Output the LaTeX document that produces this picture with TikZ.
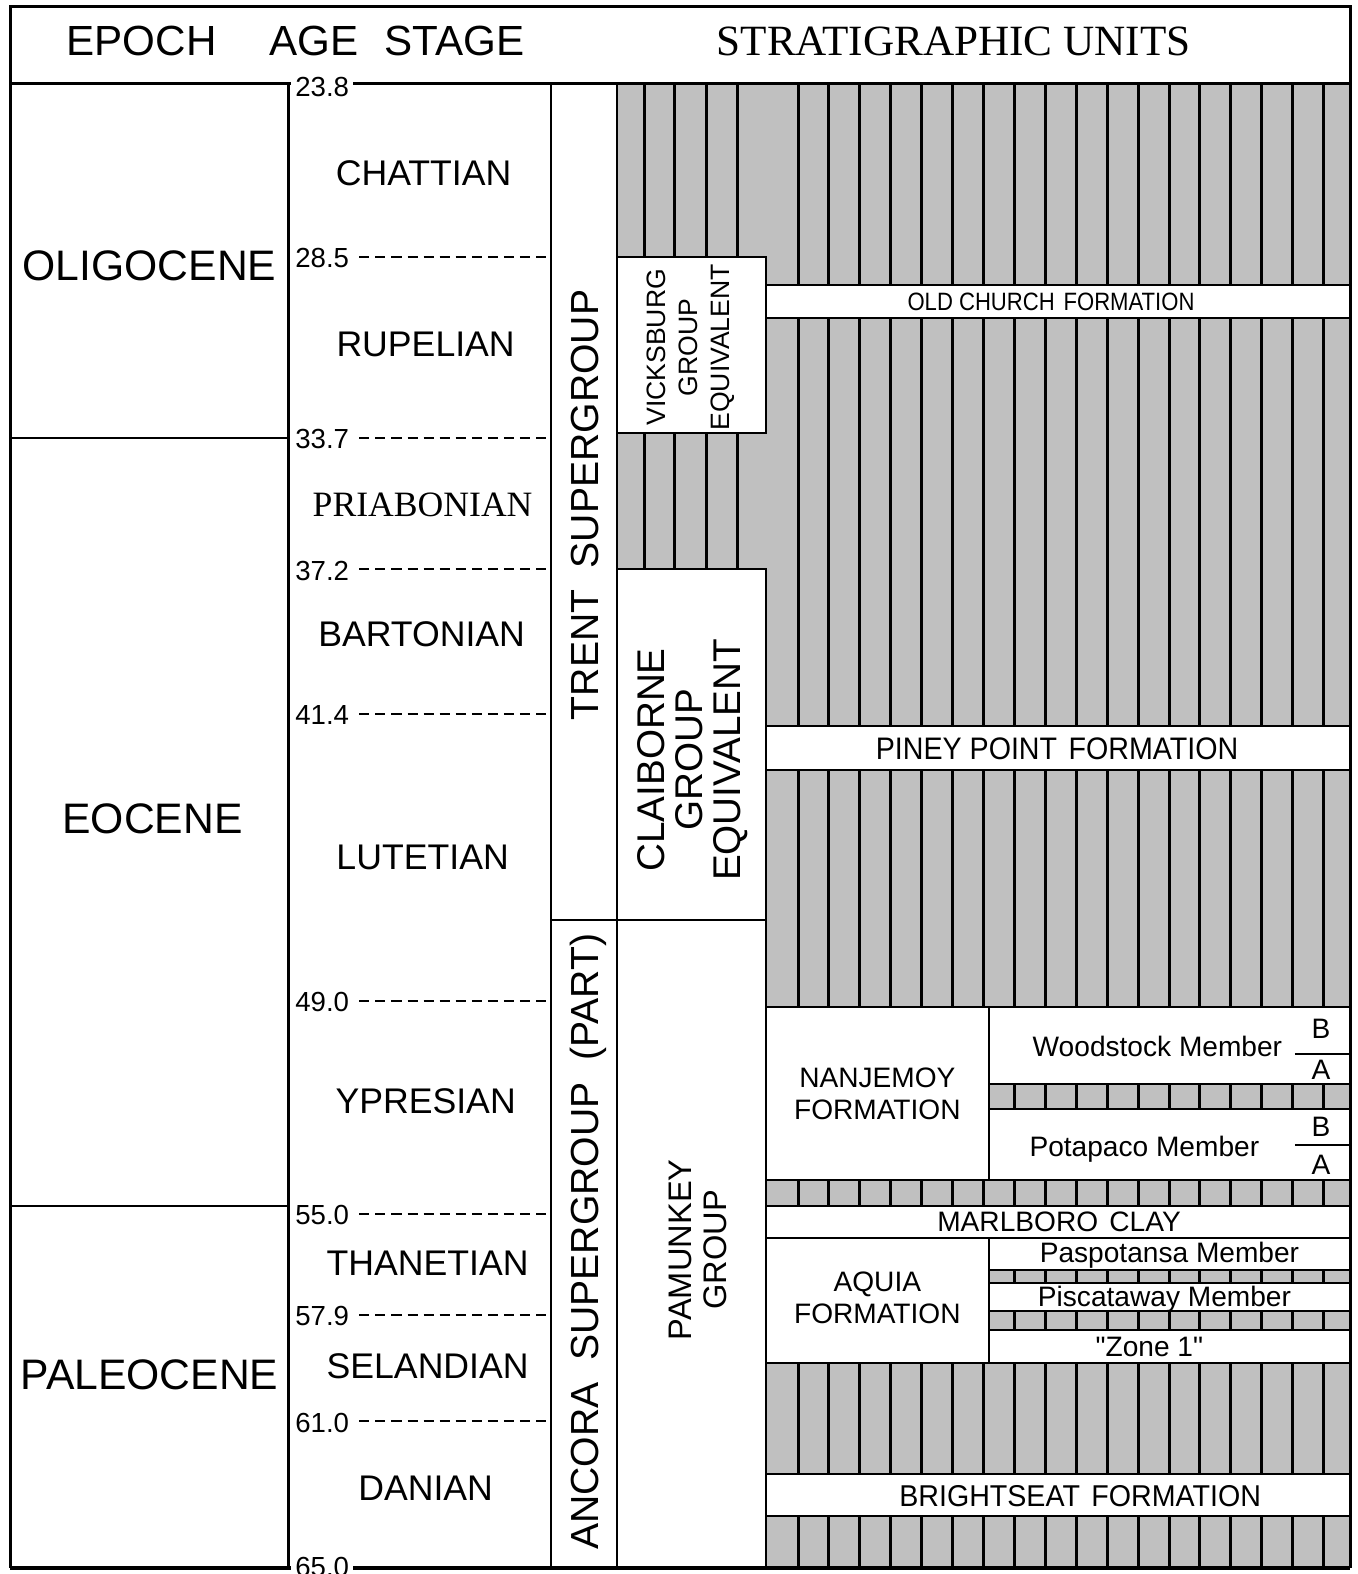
\documentclass[tikz,border=0pt]{standalone}
\usepackage{fontspec}
\usepackage{graphicx}
\setmainfont{Liberation Sans}
\newfontfamily\serifft{Liberation Serif}
\newfontfamily\rawsans{Liberation Sans}
\definecolor{hatchgray}{HTML}{C0C0C0}
\newcommand\fs[2]{\fontsize{#1}{#2}\selectfont}
\begin{document}
\begin{tikzpicture}[x=1pt,y=-1pt,line join=miter,
  frameline/.style={line width=3pt},
  ruleline/.style={line width=2pt},
  stripe/.style={line width=3pt},
  unitbox/.style={draw,line width=2pt,fill=white},
  dashline/.style={line width=2pt,dash pattern=on 10pt off 6pt},
  lab/.style={inner sep=0pt,text depth=0pt},
  mlab/.style={inner sep=0pt,align=center},
  hdr/.style={lab,text height=30pt,font=\fs{42}{46}},
  epochlab/.style={lab,text height=30.4pt,font=\fs{42.5}{46}},
  stagelab/.style={lab,text height=25.3pt,font=\fs{35.5}{40}},
  agelab/.style={lab,anchor=west,text height=19.6pt,font=\fs{27.5}{30}},
  memlab/.style={lab,text height=20pt,font=\fs{28}{32}},
  sglab/.style={lab,rotate=90,text height=28pt,font=\fs{39}{44}}
]
\useasboundingbox (0,0) rectangle (1352,1568);
\clip (0,0) rectangle (1352,1568);
% hatched region
\fill[hatchgray] (615,83) rectangle (1345,1562);
\foreach \x in {642,672,704,735} \draw[stripe] (\x,83) -- (\x,1562);
\foreach \k in {0,...,17} \draw[stripe] ({795+\k*30.8},83) -- ({795+\k*30.8},1562);
% white unit boxes
\path[unitbox] (615,256) rectangle (763,431);
\path[unitbox] (615,567) rectangle (763,916);
\path[unitbox] (615,916) rectangle (763,1562);
\path[unitbox] (763,284) rectangle (1345,317);
\path[unitbox] (763,723) rectangle (1345,767);
\path[unitbox] (763,1003) rectangle (985,1175);
\path[unitbox] (985,1003) rectangle (1345,1080);
\path[unitbox] (985,1105) rectangle (1345,1175);
\path[unitbox] (763,1201) rectangle (1345,1233);
\path[unitbox] (763,1233) rectangle (985,1358);
\path[unitbox] (985,1233) rectangle (1345,1265);
\path[unitbox] (985,1278) rectangle (1345,1306);
\path[unitbox] (985,1325) rectangle (1345,1358);
\path[unitbox] (763,1468) rectangle (1345,1510);
% B/A dividers
\draw[ruleline] (1290,1050) -- (1345,1050);
\draw[ruleline] (1290,1141) -- (1345,1141);
% column lines
\draw[ruleline] (549,83) -- (549,1562);
\draw[ruleline] (615,83) -- (615,1562);
\draw[frameline] (287,83) -- (287,1562);
\draw[ruleline] (10,436) -- (287,436);
\draw[ruleline] (10,1201) -- (287,1201);
\draw[ruleline] (549,916) -- (615,916);
% frame
\draw[frameline] (10,1562) -- (10,6) -- (1345,6) -- (1345,1562);
\draw[frameline] (10,1562) -- (290,1562);
\draw[frameline] (352,1562) -- (1345,1562);
\draw[frameline] (10,83) -- (290,83);
\draw[frameline] (352,83) -- (1345,83);
% dashed age lines
\foreach \y in {256,436,567,711,997,1209,1310,1416} \draw[dashline] (358,\y) -- (549,\y);
% header
\node[hdr] (hepoch) at (141,40) {EPOCH};
\node[hdr] (hage) at (313,40) {AGE};
\node[hdr] (hstage) at (453,40) {STAGE};
\node[hdr,text height=30.5pt,font=\serifft\fs{43}{46}] (hunits) at (950,40) {STRATIGRAPHIC UNITS};
% epochs
\node[epochlab] (olig) at (149,264) {OLIGOCENE};
\node[epochlab] (eoc) at (152,815) {EOCENE};
\node[epochlab] (paleo) at (149,1369) {PALEOCENE};
% ages
\node[agelab] (a238) at (294,86) {23.8};
\node[agelab] (a285) at (294,257) {28.5};
\node[agelab] (a337) at (294,437) {33.7};
\node[agelab] (a372) at (294,568) {37.2};
\node[agelab] (a414) at (294,712) {41.4};
\node[agelab] (a490) at (294,998) {49.0};
\node[agelab] (a550) at (294,1210) {55.0};
\node[agelab] (a579) at (294,1311) {57.9};
\node[agelab] (a610) at (294,1417) {61.0};
\node[agelab] (a650) at (294,1561) {65.0};
% stages
\node[stagelab] (chat) at (422,172) {CHATTIAN};
\node[stagelab] (rup) at (424,342) {RUPELIAN};
\node[stagelab,font=\serifft\fs{35.5}{40}] (pria) at (421,502) {PRIABONIAN};
\node[stagelab] (bart) at (420,631) {BARTONIAN};
\node[stagelab] (lut) at (421,854) {LUTETIAN};
\node[stagelab] (ypr) at (424,1097) {YPRESIAN};
\node[stagelab] (than) at (426,1258) {THANETIAN};
\node[stagelab] (sel) at (426,1361) {SELANDIAN};
\node[stagelab] (dan) at (424,1482) {DANIAN};
% supergroups
\node[sglab] (trent) at (582,503) {TRENT\hspace{0.55em}SUPERGROUP};
\node[sglab] (ancora) at (582,1237) {ANCORA\hspace{0.55em}SUPERGROUP\hspace{0.55em}(PART)};
% groups
\node[mlab,rotate=90,font=\fs{26.5}{32}] (vicks) at (688,346) {VICKSBURG\\GROUP\\EQUIVALENT};
\node[mlab,rotate=90,font=\fs{38.5}{37.5}] (claib) at (690,757) {CLAIBORNE\\GROUP\\EQUIVALENT};
\node[mlab,rotate=90,font=\fs{32.5}{35}] (pamun) at (695,1245) {PAMUNKEY\\GROUP};
% formations
\node[lab,text height=18pt,font=\fs{25}{30}] (oldch) at (1047,300) {\scalebox{0.88}[1]{OLD CHURCH\hspace{0.4em}FORMATION}};
\node[lab,text height=22.2pt,font=\fs{31}{34}] (piney) at (1053,745) {\scalebox{0.92}[1]{PINEY POINT\hspace{0.4em}FORMATION}};
\node[mlab,font=\fs{28}{32}] (nanj) at (874,1090) {NANJEMOY\\FORMATION};
\node[memlab] (woods) at (1153,1042) {Woodstock Member};
\node[memlab] (wb) at (1316,1025) {B};
\node[memlab] (wa) at (1316,1065) {A};
\node[memlab] (potap) at (1140,1142) {Potapaco Member};
\node[memlab] (pb) at (1316,1122) {B};
\node[memlab] (pa) at (1316,1160) {A};
\node[memlab] (marl) at (1055,1217) {MARLBORO\hspace{0.4em}CLAY};
\node[mlab,font=\fs{28}{32}] (aquia) at (874,1293) {AQUIA\\FORMATION};
\node[memlab] (pasp) at (1165,1248) {Paspotansa Member};
\node[memlab] (pisc) at (1160,1292) {Piscataway Member};
\node[memlab,font=\rawsans\fs{28}{32}] (zone) at (1145,1341) {"Zone 1"};
\node[lab,text height=21.5pt,font=\fs{30}{34}] (brig) at (1076,1490) {\scalebox{0.95}[1]{BRIGHTSEAT\hspace{0.4em}FORMATION}};
\end{tikzpicture}
\end{document}
